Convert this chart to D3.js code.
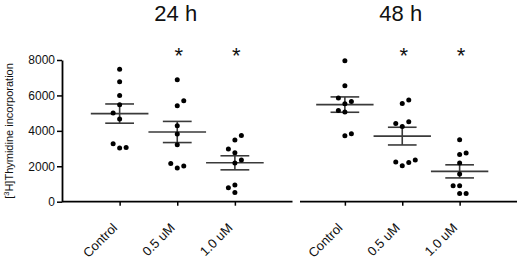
<!DOCTYPE html>
<html>

<head>
  <meta charset="utf-8">
  <style>
    body { margin: 0; background: #fff; }
    svg { display: block; font-family: "Liberation Sans", Arial, sans-serif; }
  </style>
</head>

<body>
  <script src="https://d3js.org/d3.v7.min.js"></script>
  <script>
    var groups = ["Control", "0.5 uM", "1.0 uM"];
    var panels = ["24 h", "48 h"];
    var yTicks = [0, 2000, 4000, 6000, 8000];
    var starred = [false, true, true];

    // [3H]thymidine counts, one value per well
    var control24 = [7475, 6775, 6000, 5476, 4669, 3032, 3066, 5008, 3275];
    var low24 = [6888, 5420, 5702, 4291, 3822, 3218, 1903, 2162, 2016];
    var high24 = [3483, 3743, 2767, 2975, 2185, 2354, 525, 943, 790];
    var control48 = [7961, 6549, 5533, 5064, 5663, 5155, 5855, 3726, 3839];
    var low48 = [5550, 5742, 4252, 4421, 4517, 2033, 2241, 2219, 2354];
    var high48 = [3500, 2671, 2750, 2185, 1564, 903, 903, 469, 469];

    var series = [
      [control24, low24, high24],
      [control48, low48, high48]
    ];

    var width = 520,
      height = 263;

    var svg = d3.select("body").append("svg")
      .attr("width", width)
      .attr("height", height);

    var y = d3.scaleLinear()
      .domain([0, 8000])
      .range([201.7, 60]);

    // each panel: x range for category positions 0..4, and where the drawn axis line starts
    var panelBox = [
      { range: [62, 292.5], lineStart: 62 },
      { range: [287.5, 517], lineStart: 300 }
    ];

    var dotR = 2.5,
      slotW = 6.5,
      minGap = 6.8;

    // scatter-dot layout: points that would overlap are pushed sideways, balancing the sides
    function spread(values) {
      var placed = [];
      return values.map(function(v) {
        var py = y(v);
        var count = function(s) {
          return placed.filter(function(p) { return p.slot === s; }).length;
        };
        var free = function(s) {
          return !placed.some(function(p) { return p.slot === s && Math.abs(p.py - py) < minGap; });
        };
        var slot = 0;
        if (!free(0)) {
          for (var k = 1; k < 6; k++) {
            var first = count(k) <= count(-k) ? k : -k;
            if (free(first)) { slot = first; break; }
            if (free(-first)) { slot = -first; break; }
          }
        }
        placed.push({ v: v, py: py, slot: slot });
        return { v: v, slot: slot };
      });
    }

    panels.forEach(function(title, pi) {
      var box = panelBox[pi];
      var x = d3.scaleLinear().domain([0, 4]).range(box.range);
      var g = svg.append("g");

      if (pi === 0) {
        var yAxis = g.append("g")
          .attr("transform", "translate(" + box.range[0] + ",0)")
          .call(d3.axisLeft(y).tickValues(yTicks).tickSize(5).tickSizeOuter(0).tickPadding(2).tickFormat(d3.format("d")));
        yAxis.select(".domain").attr("stroke-width", 1.8);
        yAxis.selectAll(".tick line").attr("stroke-width", 1.5);
        yAxis.selectAll("text").attr("font-size", 12).attr("font-family", null).attr("fill", "#111");
      }

      var xAxis = g.append("g")
        .attr("transform", "translate(0," + y(0) + ")")
        .call(d3.axisBottom(x).tickValues([1, 2, 3]).tickSize(4).tickSizeOuter(0)
          .tickFormat(function(d) { return groups[d - 1]; }));
      xAxis.select(".domain")
        .attr("d", "M" + box.lineStart + ",0H" + box.range[1])
        .attr("stroke-width", 1.8);
      xAxis.selectAll(".tick line").attr("stroke-width", 1.5);
      xAxis.selectAll("text")
        .attr("font-size", 13)
        .attr("font-family", null)
        .attr("fill", "#111")
        .attr("text-anchor", "end")
        .attr("x", 0)
        .attr("y", 0)
        .attr("dy", null)
        .attr("transform", "translate(-2,27) rotate(-45)");

      g.append("text")
        .attr("x", x(2) - 1.5)
        .attr("y", 21)
        .attr("text-anchor", "middle")
        .attr("font-size", 22)
        .attr("fill", "#111")
        .text(title);

      series[pi].forEach(function(values, gi) {
        var cx = x(gi + 1);
        var mean = d3.mean(values);
        var sem = d3.deviation(values) / Math.sqrt(values.length);

        var stats = g.append("g")
          .attr("stroke", "#3a3a3a")
          .attr("stroke-width", 1.6);
        stats.append("line")
          .attr("x1", x(gi + 0.5)).attr("x2", x(gi + 1.5))
          .attr("y1", y(mean)).attr("y2", y(mean));
        stats.append("line")
          .attr("x1", cx).attr("x2", cx)
          .attr("y1", y(mean + sem)).attr("y2", y(mean - sem));
        [mean + sem, mean - sem].forEach(function(m) {
          stats.append("line")
            .attr("x1", x(gi + 0.75)).attr("x2", x(gi + 1.25))
            .attr("y1", y(m)).attr("y2", y(m));
        });

        g.selectAll(".dot-" + gi)
          .data(spread(values))
          .enter().append("circle")
          .attr("cx", function(d) { return cx + d.slot * slotW; })
          .attr("cy", function(d) { return y(d.v); })
          .attr("r", dotR)
          .attr("fill", "#000");

        if (starred[gi]) {
          g.append("text")
            .attr("x", cx + 1.5)
            .attr("y", 63)
            .attr("text-anchor", "middle")
            .attr("font-size", 22)
            .attr("fill", "#111")
            .text("*");
        }
      });
    });

    svg.append("text")
      .attr("transform", "translate(13,131) rotate(-90)")
      .attr("text-anchor", "middle")
      .attr("font-size", 11)
      .attr("fill", "#111")
      .call(function(t) {
        t.append("tspan").text("[");
        t.append("tspan").attr("font-size", 7.5).attr("dy", -4).text("3");
        t.append("tspan").attr("dy", 4).text("H]Thymidine incorporation");
      });
  </script>
</body>

</html>
